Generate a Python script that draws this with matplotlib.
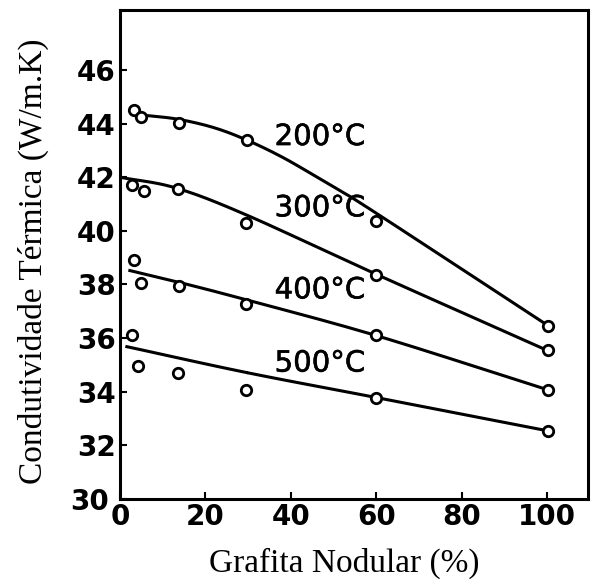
import numpy as np
import matplotlib
matplotlib.use("Agg")
import matplotlib.pyplot as plt
import matplotlib.patheffects as pe
import matplotlib.transforms as mtrans

x_200 = [3.3, 4.9, 13.8, 29.8, 59.9, 100.2]
k_200 = [44.5, 44.24, 44.02, 43.38, 40.36, 36.47]
x_300 = [2.9, 5.6, 13.5, 29.5, 59.9, 100.2]
k_300 = [41.7, 41.5, 41.55, 40.3, 38.37, 35.57]
x_400 = [3.3, 4.9, 13.8, 29.5, 59.9, 100.2]
k_400 = [38.9, 38.04, 37.93, 37.29, 36.1, 34.07]
x_500 = [2.9, 4.3, 13.5, 29.5, 59.9, 100.2]
k_500 = [36.13, 34.97, 34.71, 34.07, 33.78, 32.54]

# hand-drawn trend curves
cx_200 = [5.2, 13.4, 22.0, 29.8, 38.0, 46.2, 51.4, 60.0, 100.2]
cy_200 = [44.32, 44.17, 43.85, 43.38, 42.75, 42.0, 41.51, 40.66, 36.47]
cx_300 = [0.0, 13.1, 29.8, 59.6, 100.2]
cy_300 = [42.0, 41.6, 40.58, 38.41, 35.53]
cx_400 = [2.3, 14.1, 29.3, 60.1, 100.2]
cy_400 = [38.52, 38.07, 37.44, 36.09, 34.07]
cx_500 = [1.6, 29.8, 60.1, 100.2]
cy_500 = [35.68, 34.71, 33.78, 32.54]

labels = ["200°C", "300°C", "400°C", "500°C"]
label_y = [43.5, 40.84, 37.78, 35.05]


def smooth(xs, ys, n=40):
    # catmull-rom through the read points
    x = np.asarray(xs, float)
    y = np.asarray(ys, float)
    px = np.r_[2 * x[0] - x[1], x, 2 * x[-1] - x[-2]]
    py = np.r_[2 * y[0] - y[1], y, 2 * y[-1] - y[-2]]
    t = np.linspace(0, 1, n)[:, None]
    outx, outy = [], []
    for i in range(1, len(px) - 2):
        for p, out in ((px, outx), (py, outy)):
            p0, p1, p2, p3 = p[i - 1], p[i], p[i + 1], p[i + 2]
            seg = 0.5 * (2 * p1 + (-p0 + p2) * t + (2 * p0 - 5 * p1 + 4 * p2 - p3) * t ** 2
                         + (-p0 + 3 * p1 - 3 * p2 + p3) * t ** 3)
            out.append(seg.ravel())
    return np.concatenate(outx), np.concatenate(outy)


series = [
    (x_200, k_200, cx_200, cy_200),
    (x_300, k_300, cx_300, cy_300),
    (x_400, k_400, cx_400, cy_400),
    (x_500, k_500, cx_500, cy_500),
]

fig = plt.figure(figsize=(5.93, 5.87), dpi=100)
ax = fig.add_axes([0.2024, 0.150, 0.7892, 0.833])

for (xs, ys, cx, cy), lab, ly in zip(series, labels, label_y):
    sx, sy = smooth(cx, cy)
    ax.plot(sx, sy, color="black", lw=2.2)
    ax.plot(xs, ys, "o", mfc="white", mec="black", mew=2, ms=7.5)
    ax.text(36.2, ly, lab, fontsize=21, va="center", ha="left",
            path_effects=[pe.withStroke(linewidth=0.4, foreground="black")])

ax.set_xlim(0, 109.6)
ax.set_ylim(30, 48.24)
ax.set_xticks([0, 20, 40, 60, 80, 100])
ax.set_yticks(range(30, 47, 2))
ax.tick_params(direction="in", length=5, width=1.5, labelsize=20, pad=3)
for t in ax.get_xticklabels() + ax.get_yticklabels():
    t.set_fontweight("bold")
# the "30" sits a little left of the others in the original
lab30 = ax.get_yticklabels()[0]
lab30.set_transform(lab30.get_transform() + mtrans.ScaledTranslation(-7 / 100, 0, fig.dpi_scale_trans))
for s in ax.spines.values():
    s.set_linewidth(2.2)

ax.set_xlabel("Grafita Nodular (%)", fontsize=24, family="Liberation Serif")
ax.set_ylabel("Condutividade Térmica (W/m.K)", fontsize=24, family="Liberation Serif")
ax.xaxis.set_label_coords(0.479, -0.1)
ax.yaxis.set_label_coords(-0.152, 0.487)

fig.savefig("out.png", dpi=100)
